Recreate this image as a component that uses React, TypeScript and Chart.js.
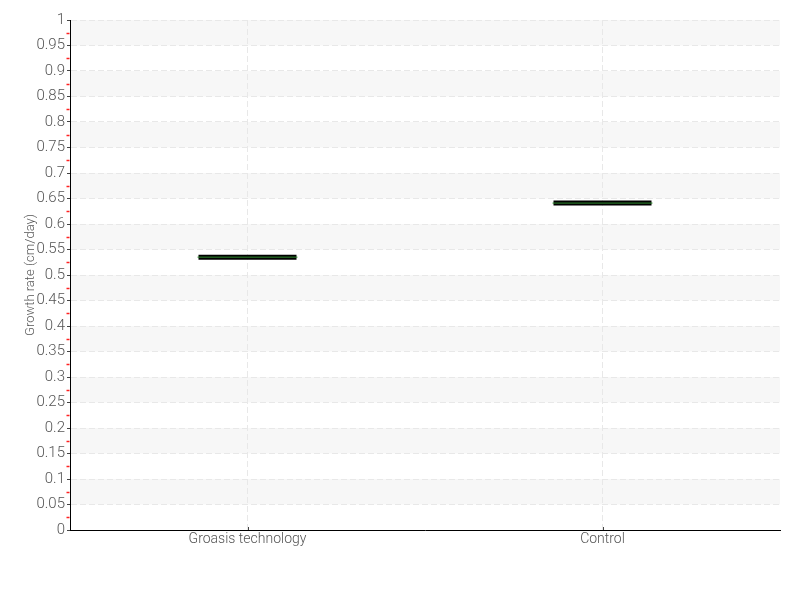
import React, { useEffect, useRef } from "react";
import { Chart, registerables } from "chart.js";

Chart.register(...registerables);

const categories = ["Groasis technology", "Control"];
const growthRate = [0.535, 0.641];
const yTicksMin = 0;
const yTicksMax = 1;
const yStep = 0.05;
const yAxisTitle = "Growth rate (cm/day)";

const FONT = "Roboto";

const decorPlugin = {
  id: "decor",
  beforeDraw(chart: any) {
    const { ctx, chartArea } = chart;
    const y = chart.scales.y;
    ctx.save();
    ctx.fillStyle = "#f7f7f7";
    for (let i = 0; i < 20; i++) {
      const lo = yTicksMin + i * yStep;
      const hi = lo + yStep;
      if (i % 2 === 1) {
        const top = y.getPixelForValue(hi);
        const bot = y.getPixelForValue(lo);
        ctx.fillRect(chartArea.left, top, chartArea.right - chartArea.left, bot - top);
      }
    }
    ctx.restore();
  },
  afterDraw(chart: any) {
    const { ctx, chartArea } = chart;
    const y = chart.scales.y;
    const x = chart.scales.x;
    ctx.save();
    ctx.strokeStyle = "#ff2020";
    ctx.lineWidth = 1.5;
    for (let i = 0; i < 20; i++) {
      const v = yTicksMin + (i + 0.5) * yStep;
      const py = Math.round(y.getPixelForValue(v)) + 0.5;
      ctx.beginPath();
      ctx.moveTo(chartArea.left - 3.5, py);
      ctx.lineTo(chartArea.left - 0.5, py);
      ctx.stroke();
    }
    ctx.strokeStyle = "#444";
    ctx.lineWidth = 1;
    for (let i = 0; i < categories.length; i++) {
      const px = Math.round(x.getPixelForValue(i)) + 0.5;
      ctx.beginPath();
      ctx.moveTo(px, chartArea.bottom);
      ctx.lineTo(px, chartArea.bottom - 3);
      ctx.stroke();
    }
    ctx.restore();
  },
};

export default function App() {
  const ref = useRef<HTMLCanvasElement>(null);
  useEffect(() => {
    const chart = new Chart(ref.current as HTMLCanvasElement, {
      type: "line",
      data: {
        labels: categories,
        datasets: [
          {
            data: growthRate,
            showLine: false,
            order: 1,
            pointStyle: "line",
            pointRadius: 49,
            pointBorderWidth: 5,
            pointBorderColor: "#000000",
            pointBackgroundColor: "#000000",
          },
          {
            data: growthRate,
            showLine: false,
            order: 0,
            pointStyle: "line",
            pointRadius: 50,
            pointBorderWidth: 1,
            pointBorderColor: "#2e8b2e",
            pointBackgroundColor: "#2e8b2e",
          },
        ],
      } as any,
      options: {
        animation: false,
        responsive: false,
        maintainAspectRatio: false,
        layout: { autoPadding: false, padding: { top: 20, right: 20, left: 0, bottom: 0 } } as any,
        plugins: { legend: { display: false }, tooltip: { enabled: false } },
        scales: {
          x: {
            offset: true,
            grid: {
              offset: false,
              color: "#e8e8e8",
              borderDash: [6, 3],
              drawTicks: false,
            } as any,
            border: { color: "#000", width: 1, dash: [6, 3] } as any,
            ticks: { color: "#555", font: { family: FONT, size: 14, weight: "300" as any }, padding: 1 },
            afterFit(scale: any) {
              scale.height = 70;
            },
          },
          y: {
            min: yTicksMin,
            max: yTicksMax,
            grid: {
              color: "#e8e8e8",
              tickColor: "#444",
              tickLength: 3,
              drawOnChartArea: true,
            },
            border: { color: "#000", width: 1, dash: [6, 3] } as any,
            ticks: {
              stepSize: yStep,
              color: "#555",
              padding: 2,
              font: { family: FONT, size: 15, weight: "300" as any },
              callback: (v: any) => String(Number(Number(v).toFixed(2))),
            },
            title: {
              display: true,
              text: yAxisTitle,
              color: "#555",
              font: { family: FONT, size: 13, weight: "300" as any },
              padding: { top: 23, bottom: 0 },
            },
            afterFit(scale: any) {
              scale.width = 70;
            },
          },
        },
      },
      plugins: [decorPlugin],
    });
    return () => chart.destroy();
  }, []);
  return (
    <div style={{ position: "absolute", left: 0, top: 0, width: 800, height: 600 }}>
      <canvas ref={ref} width={800} height={600} />
    </div>
  );
}
